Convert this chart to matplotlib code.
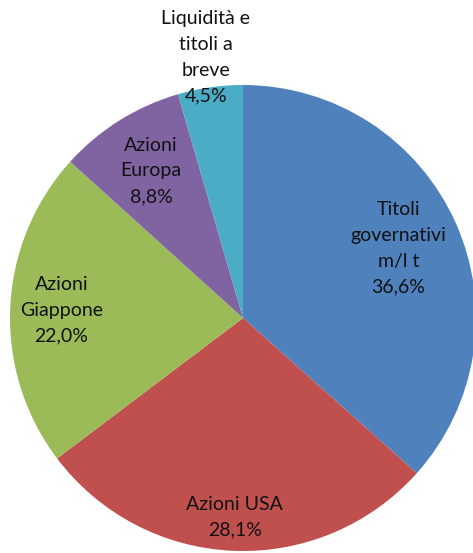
import matplotlib

matplotlib.use("Agg")

import matplotlib.pyplot as plt
import numpy as np

categories = ["Titoli\ngovernativi\nm/l t", "Azioni USA", "Azioni\nGiappone", "Azioni\nEuropa", "Liquidità e\ntitoli a\nbreve"]
shares     = [36.6, 28.1, 22.0, 8.8, 4.5]
colors     = ["#4F81BD", "#C0504D", "#9BBB59", "#8064A2", "#4BACC6"]

# radial distance of each label centre, in pie radii
label_radius = [0.73, 0.855, 0.78, 0.745, 1.13]

plt.rcParams["font.family"] = ["Lato", "DejaVu Sans"]

figure = plt.figure(figsize=(4.73, 5.53), dpi=100)
axis   = figure.add_axes([10 / 473, 2 / 553, 466 / 473, 466 / 553])

wedges, _ = axis.pie(shares, colors=colors, startangle=90, counterclock=False, radius=1.0,
                     wedgeprops={"linewidth": 0})

for wedge, name, value, factor in zip(wedges, categories, shares, label_radius):
    angle = np.deg2rad((wedge.theta1 + wedge.theta2) / 2)
    text  = f"{name}\n{value:.1f}%".replace(".", ",")
    axis.text(factor * np.cos(angle), factor * np.sin(angle), text, ha="center", va="center",
              multialignment="center", fontsize=14, color="#111111", linespacing=1.62)

axis.set_xlim(-1, 1)
axis.set_ylim(-1, 1)
axis.set_aspect("equal")
axis.axis("off")

figure.savefig("out.png", dpi=100)
